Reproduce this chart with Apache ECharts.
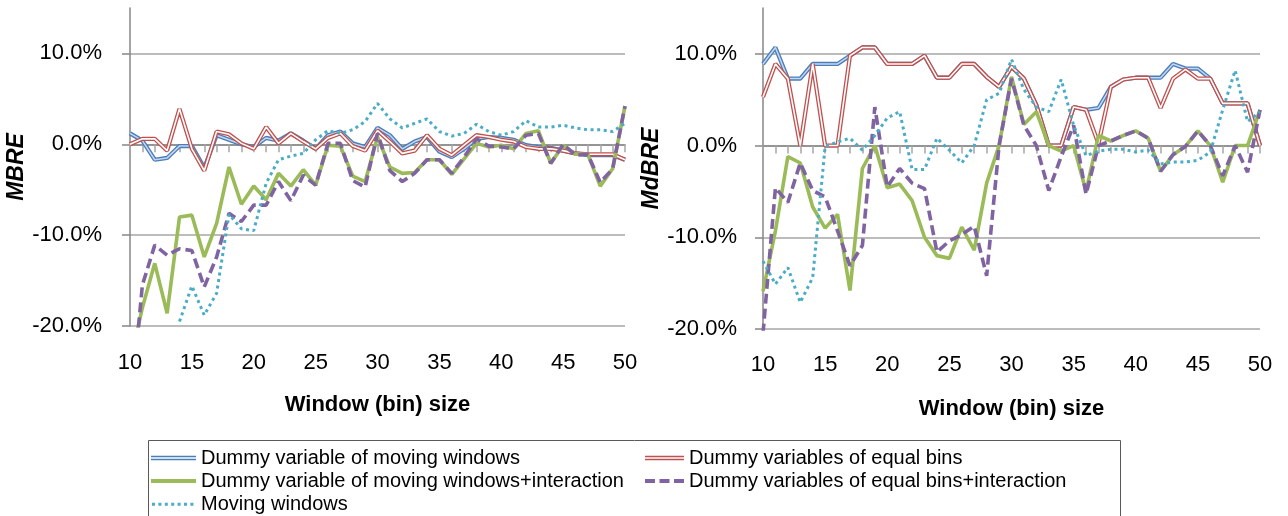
<!DOCTYPE html>
<html>
<head>
<meta charset="utf-8">
<script src="https://cdn.jsdelivr.net/npm/echarts@6/dist/echarts.min.js"></script>
<style>
html,body{margin:0;padding:0;background:#fff;}
#chart{width:1288px;height:516px;}
</style>
</head>
<body>
<div id="chart"></div>
<script>
// Window (bin) sizes
const sizes = [10,11,12,13,14,15,16,17,18,19,20,21,22,23,24,25,26,27,28,29,30,31,32,33,34,35,36,37,38,39,40,41,42,43,44,45,46,47,48,49,50];
const yTicks = [-20, -10, 0, 10];

// Left chart: MBRE (%)
const mbreDummyMW = [1.2,0.4,-1.7,-1.5,-0.2,-0.2,-2.6,1.0,0.5,0.0,-0.3,0.7,0.4,1.2,0.4,-0.5,1.0,1.4,0.1,-0.3,1.8,1.0,-0.5,0.3,0.8,-0.8,-1.4,-0.5,0.6,0.8,0.7,0.5,-0.1,-0.3,-0.4,-0.7,-1.0,-1.2,-1.2,-1.2,-1.7];
const mbreDummyEB = [0.0,0.6,0.6,-0.7,3.9,-0.5,-2.9,1.4,1.1,0.1,-0.5,1.9,0.1,1.2,0.3,-0.5,0.7,1.2,-0.2,-0.7,1.5,0.3,-1.0,-0.7,1.0,-0.5,-1.2,-0.1,1.0,0.8,0.5,0.3,-0.3,-0.5,-0.5,-0.7,-1.0,-1.1,-1.1,-1.1,-1.7];
const mbreDummyMWInt = [-24,-18,-13.1,-18.6,-8.0,-7.8,-12.4,-8.7,-2.5,-6.6,-4.6,-6.1,-3.2,-4.6,-2.8,-4.5,-0.1,-0.2,-3.5,-4.1,0.8,-2.5,-3.2,-3.1,-1.7,-1.7,-3.3,-1.6,0.1,-0.3,-0.1,-0.5,1.2,1.5,-2.1,-0.1,-1.1,-1.1,-4.6,-2.7,4.2];
const mbreDummyEBInt = [-30,-15.5,-11.1,-12.2,-11.5,-11.7,-15.7,-12.4,-7.6,-8.5,-6.7,-6.7,-4.1,-6.2,-3.4,-4.5,0.1,0.1,-4.0,-4.7,1.2,-2.9,-4.1,-3.2,-1.7,-1.7,-3.2,-1.4,0.6,-0.2,-0.3,-0.5,1.0,1.2,-2.1,0.0,-1.2,-1.1,-4.2,-2.7,4.2];
const mbreMW = [null,null,null,null,-19.5,-15.6,-18.8,-16.4,-7.7,-9.3,-9.5,-4.3,-1.7,-1.3,-1.0,0.5,1.5,1.2,1.6,2.5,4.5,2.8,1.8,2.3,2.8,1.4,0.9,1.2,2.2,1.4,1.0,1.4,2.6,1.9,1.9,2.1,1.8,1.6,1.6,1.4,2.3];

// Right chart: MdBRE (%)
const mdbreDummyMW = [8.9,10.7,7.3,7.3,8.9,8.9,8.9,9.8,10.7,10.7,8.9,8.9,8.9,9.8,7.4,7.4,8.9,8.9,7.5,6.4,8.6,7.3,4.4,0.0,0.0,4.2,3.9,4.1,6.4,7.2,7.4,7.4,7.4,8.9,8.4,8.4,7.3,4.6,4.6,4.6,0.0];
const mdbreDummyEB = [5.3,8.9,7.3,0.0,8.9,0.0,0.0,9.8,10.7,10.7,8.9,8.9,8.9,9.8,7.4,7.4,8.9,8.9,7.5,6.4,8.6,7.3,4.4,0.0,0.0,4.2,3.9,0.2,6.4,7.2,7.4,7.4,4.1,7.3,8.3,7.3,7.3,4.6,4.6,4.6,0.0];
const mdbreDummyMWInt = [-15.9,-9.3,-1.2,-1.9,-6.7,-9.0,-7.5,-15.8,-2.5,0.0,-4.6,-4.2,-6.0,-10.0,-12.0,-12.3,-8.9,-11.4,-4.1,0.0,7.5,2.3,3.7,0.0,-0.6,0.0,-5.0,1.1,0.5,1.1,1.6,0.8,-2.8,-1.0,-0.1,1.6,0.0,-4.0,0.0,0.0,3.9];
const mdbreDummyEBInt = [-20.5,-4.6,-6.2,-1.9,-4.9,-5.6,-9.3,-13.1,-10.9,4.2,-4.5,-2.5,-4.1,-4.7,-11.6,-10.4,-9.7,-8.8,-14.2,0.0,7.3,2.2,0.0,-4.9,-1.2,2.2,-5.3,0.0,0.5,1.1,1.6,0.8,-2.8,-1.0,-0.1,1.6,0.0,-3.3,0.0,-2.9,3.9];
const mdbreMW = [-12.6,-15.1,-13.3,-17.1,-14.4,-0.1,0.4,0.8,-0.5,1.1,3.0,3.7,-2.6,-2.6,0.8,-0.5,-1.9,0.0,5.0,5.7,9.4,6.1,4.2,3.7,7.2,2.2,-1.1,-0.6,-0.4,-0.4,-0.7,-0.5,-2.0,-1.8,-1.8,-1.6,-0.7,3.9,8.2,2.6,3.7];

const NAMES = {
  mw: 'Dummy variable of moving windows',
  eb: 'Dummy variables of equal bins',
  mwi: 'Dummy variable of moving windows+interaction',
  ebi: 'Dummy variables of equal bins+interaction',
  m: 'Moving windows'
};
const C = {blue:'#4A7EBB', blueIn:'#C5D6EE', red:'#C0504D', green:'#9BBB59', purple:'#8064A2', teal:'#4BACC6'};
const FONT = 'Liberation Sans, Arial, sans-serif';

// legend icon shapes (styles only)
const ICON_DOUBLE45 = 'path://M0,0H45V1.6H0Z M0,3H45V4.6H0Z';
const ICON_DOUBLE39 = 'path://M0,0H39V1.6H0Z M0,3H39V4.6H0Z';
const ICON_SOLID45 = 'path://M0,0.3H45V4.3H0Z';
const ICON_DASH39 = 'path://M0,0.3H10V4.3H0Z M14.5,0.3H24.5V4.3H14.5Z M29,0.3H39V4.3H29Z';
let dots = '';
for (let x = 1; x + 3 <= 45; x += 6.4) dots += 'M' + x + ',1H' + (x + 3) + 'V4H' + x + 'Z ';
const ICON_DOT45 = 'path://M0,0H0.01V4.6H0Z ' + dots + 'M44.99,0H45V4.6H44.99Z';

function line(name, data, xi, yi, ls, silent) {
  return {
    type: 'line', name: name, data: data, xAxisIndex: xi, yAxisIndex: yi,
    symbol: 'none', showSymbol: false, silent: !!silent, clip: true,
    connectNulls: false, animation: false,
    itemStyle: {color: ls.color},
    lineStyle: ls
  };
}
function seriesFor(xi, yi, d) {
  return [
    line(NAMES.mw, d[0], xi, yi, {color: C.blue, width: 4.2}),
    line('_mwInner' + xi, d[0], xi, yi, {color: C.blueIn, width: 1.5}, true),
    line(NAMES.eb, d[1], xi, yi, {color: C.red, width: 4.2}),
    line('_ebInner' + xi, d[1], xi, yi, {color: '#ffffff', width: 1.6}, true),
    line(NAMES.mwi, d[2], xi, yi, {color: C.green, width: 3.6}),
    line(NAMES.ebi, d[3], xi, yi, {color: C.purple, width: 3.6, type: [10, 5]}),
    line(NAMES.m, d[4], xi, yi, {color: C.teal, width: 3, type: [3, 3.6]})
  ];
}
function pct(v) { return v.toFixed(1) + '%'; }

function yAxis(gi, name, margin, gap) {
  return {
    type: 'value', gridIndex: gi, min: -20, max: 15, interval: 10,
    axisLine: {show: true, lineStyle: {color: '#868686', width: 1.5}},
    axisTick: {show: true, length: 8, customValues: yTicks, lineStyle: {color: '#868686', width: 1.5}},
    axisLabel: {formatter: pct, customValues: yTicks, fontSize: 22, color: '#000', fontFamily: FONT, margin: margin},
    splitLine: {show: true, lineStyle: {color: '#A6A6A6', width: 1.5}},
    name: name, nameLocation: 'middle', nameGap: gap,
    nameTextStyle: {fontSize: 23, fontWeight: 'bold', fontStyle: 'italic', color: '#000', fontFamily: FONT}
  };
}
function xLabelAxis(gi, margin, gap) {
  return {
    type: 'category', gridIndex: gi, data: sizes, boundaryGap: false, position: 'bottom',
    axisLine: {show: false, onZero: false}, axisTick: {show: false},
    axisLabel: {interval: 4, fontSize: 22, color: '#000', fontFamily: FONT, margin: margin},
    splitLine: {show: false},
    name: 'Window (bin) size', nameLocation: 'middle', nameGap: gap,
    nameTextStyle: {fontSize: 22, fontWeight: 'bold', color: '#000', fontFamily: FONT}
  };
}
function xZeroAxis(gi) {
  return {
    type: 'category', gridIndex: gi, data: sizes, boundaryGap: false, position: 'top',
    axisLine: {show: true, onZero: true, lineStyle: {color: '#868686', width: 1.5}},
    axisTick: {show: true, interval: 0, inside: true, length: 8, lineStyle: {color: '#A6A6A6', width: 1.5}},
    axisLabel: {show: false}, splitLine: {show: false}
  };
}
const legendText = {fontSize: 20, color: '#000', fontFamily: FONT, lineHeight: 22};

const chart = echarts.init(document.getElementById('chart'), null, {renderer: 'canvas'});
chart.setOption({
  animation: false,
  backgroundColor: '#fff',
  textStyle: {fontFamily: FONT},
  grid: [
    {left: 130, top: 8, width: 495, height: 318, containLabel: false},
    {left: 763, top: 8, width: 497, height: 321, containLabel: false}
  ],
  xAxis: [xLabelAxis(0, 26, 68), xZeroAxis(0), xLabelAxis(1, 25, 69), xZeroAxis(1)],
  yAxis: [yAxis(0, 'MBRE', 28, 97), yAxis(1, 'MdBRE', 26, 94)],
  legend: [
    {
      left: 151, top: 447, orient: 'vertical', padding: 0, itemGap: 1,
      itemWidth: 45, itemHeight: 4.6, selectedMode: false,
      itemStyle: {borderWidth: 0},
      data: [
        {name: NAMES.mw, icon: ICON_DOUBLE45},
        {name: NAMES.mwi, icon: ICON_SOLID45},
        {name: NAMES.m, icon: ICON_DOT45}
      ],
      textStyle: legendText
    },
    {
      left: 645, top: 447, orient: 'vertical', padding: 0, itemGap: 1,
      itemWidth: 39, itemHeight: 4.6, selectedMode: false,
      itemStyle: {borderWidth: 0},
      data: [
        {name: NAMES.eb, icon: ICON_DOUBLE39},
        {name: NAMES.ebi, icon: ICON_DASH39}
      ],
      textStyle: legendText
    }
  ],
  graphic: [{
    type: 'rect', silent: true, z: -1,
    shape: {x: 148.5, y: 440.5, width: 972, height: 100},
    style: {fill: 'none', stroke: '#595959', lineWidth: 1}
  }],
  series: [].concat(
    seriesFor(0, 0, [mbreDummyMW, mbreDummyEB, mbreDummyMWInt, mbreDummyEBInt, mbreMW]),
    seriesFor(2, 1, [mdbreDummyMW, mdbreDummyEB, mdbreDummyMWInt, mdbreDummyEBInt, mdbreMW])
  )
});
</script>
</body>
</html>
